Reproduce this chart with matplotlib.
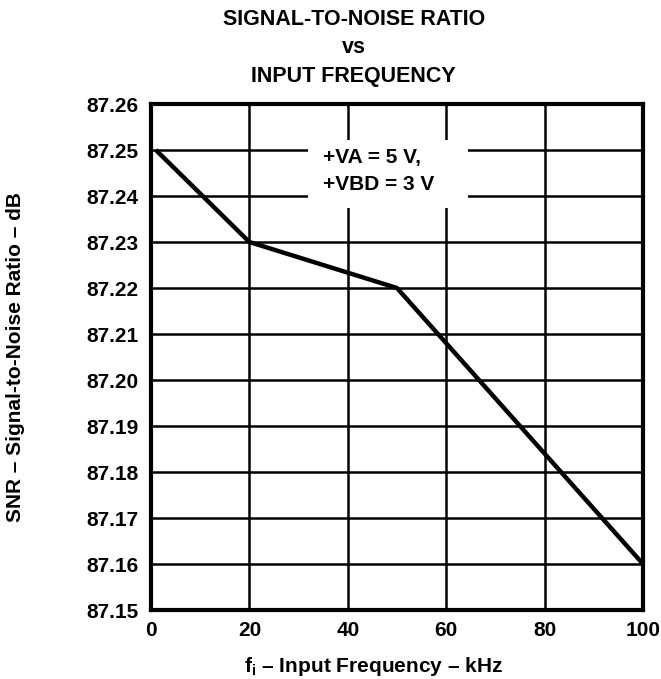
import matplotlib
matplotlib.use("Agg")
import matplotlib.pyplot as plt

# data
freq_khz = [1, 20, 50, 100]
snr_db = [87.25, 87.23, 87.22, 87.16]
x_ticks = [0, 20, 40, 60, 80, 100]
y_ticks = [87.15, 87.16, 87.17, 87.18, 87.19, 87.20, 87.21, 87.22, 87.23, 87.24, 87.25, 87.26]

plt.rcParams['font.family'] = ['Liberation Sans', 'DejaVu Sans']
plt.rcParams['font.weight'] = 'bold'
plt.rcParams['mathtext.fontset'] = 'custom'
plt.rcParams['mathtext.rm'] = 'Liberation Sans:bold'
plt.rcParams['mathtext.bf'] = 'Liberation Sans:bold'
plt.rcParams['mathtext.it'] = 'Liberation Sans:bold'

FS = 15

fig = plt.figure(figsize=(6.61, 6.79), dpi=100)
ax = fig.add_axes([0.2284, 0.1016, 0.7444, 0.7452])

ax.set_xlim(0, 100)
ax.set_ylim(87.15, 87.26)
ax.set_xticks(x_ticks)
ax.set_yticks(y_ticks)
ax.set_xticklabels([str(v) for v in x_ticks], fontsize=FS, fontweight='bold')
ax.set_yticklabels([f'{v:.2f}' for v in y_ticks], fontsize=FS, fontweight='bold')
ax.tick_params(length=0)
ax.tick_params(axis='x', pad=8)
ax.tick_params(axis='y', pad=9)

ax.grid(True, color='black', linewidth=1.8)
ax.set_axisbelow(True)
for s in ax.spines.values():
    s.set_linewidth(3)

ax.plot(freq_khz, snr_db, color='black', linewidth=3.2, solid_capstyle='butt', zorder=3)

# white box behind the condition note
ax.add_patch(plt.Rectangle((0.319, 0.794), 0.325, 0.134, transform=ax.transAxes,
                           facecolor='white', edgecolor='none', zorder=2.5))
ax.text(0.350, 0.883, '+VA = 5 V,', transform=ax.transAxes, ha='left', va='baseline',
        fontsize=FS, fontweight='bold', zorder=4)
ax.text(0.350, 0.830, '+VBD = 3 V', transform=ax.transAxes, ha='left', va='baseline',
        fontsize=FS, fontweight='bold', zorder=4)

TS = 15.5
fig.text(0.535, 1 - 25 / 679, 'SIGNAL-TO-NOISE RATIO', ha='center', va='baseline', fontsize=TS, fontweight='bold')
fig.text(0.535, 1 - 53 / 679, 'vs', ha='center', va='baseline', fontsize=TS, fontweight='bold')
fig.text(0.535, 1 - 82 / 679, 'INPUT FREQUENCY', ha='center', va='baseline', fontsize=TS, fontweight='bold')

fig.text(0.565, 1 - 672 / 679, '$\\mathbf{f_i}$ – Input Frequency – kHz', ha='center', va='baseline',
         fontsize=FS, fontweight='bold')
fig.text(0.024, 0.474, 'SNR – Signal-to-Noise Ratio – dB', rotation=90, ha='center', va='center',
         fontsize=FS, fontweight='bold')

fig.savefig('out.png', dpi=100, facecolor='white')
